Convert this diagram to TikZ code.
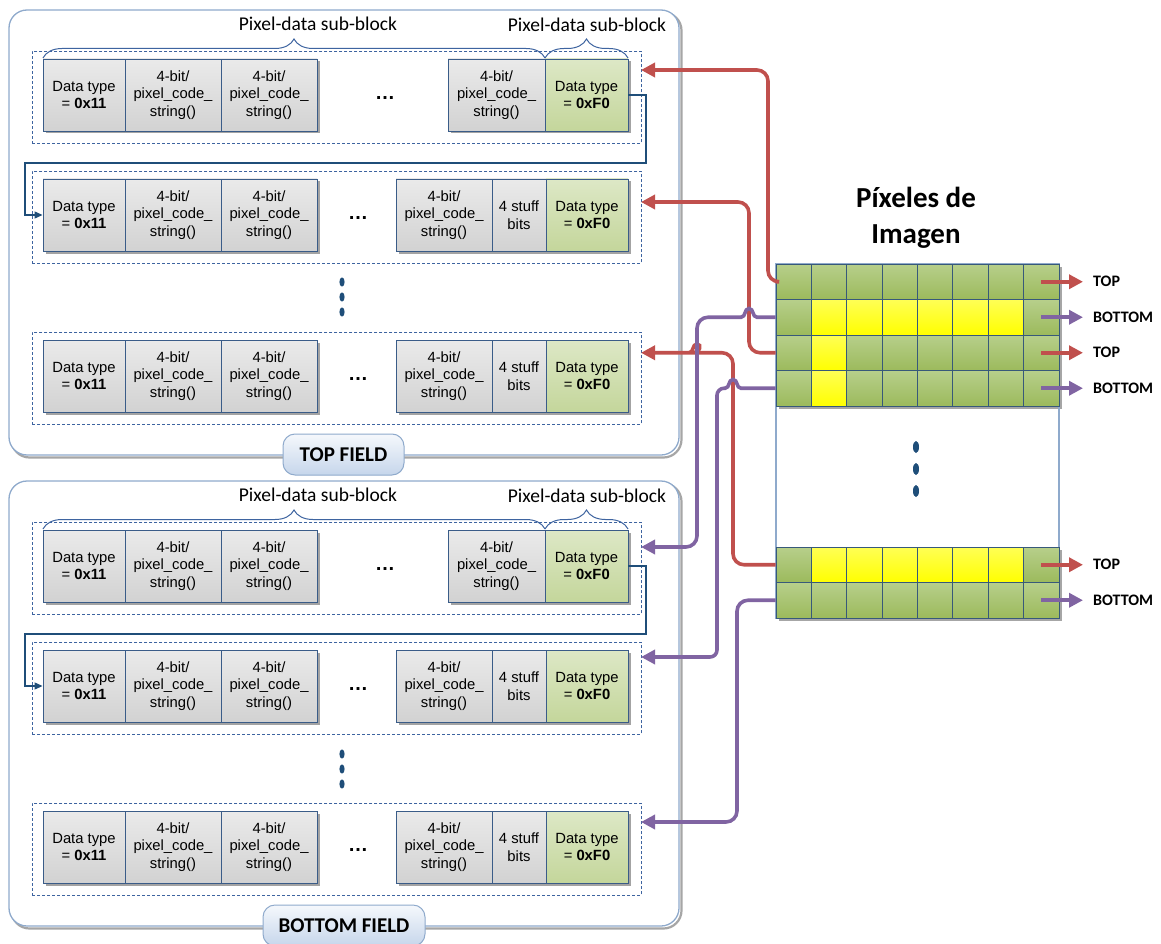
\documentclass[tikz,border=0pt]{standalone}
\usepackage{fontspec}
\setmainfont{Liberation Sans}
\newfontfamily\carl{Carlito}
\usetikzlibrary{arrows.meta,shadows,decorations.pathreplacing,calc}
\definecolor{cellb}{HTML}{3A5C88}
\definecolor{dashc}{HTML}{3E64A0}
\definecolor{fieldc}{HTML}{8FAACC}
\definecolor{redc}{HTML}{C0504D}
\definecolor{purc}{HTML}{8064A2}
\definecolor{navy}{HTML}{1F4E79}
\definecolor{gridl}{HTML}{37597A}
\definecolor{gtop}{HTML}{B7CF8B}
\definecolor{gbot}{HTML}{9CBA5C}
\definecolor{ytop}{HTML}{FFFF55}
\definecolor{ybot}{HTML}{FFFF00}
\definecolor{celltop}{HTML}{EAEAEA}
\definecolor{cellbot}{HTML}{D2D2D2}
\definecolor{lgtop}{HTML}{DDE8C6}
\definecolor{lgbot}{HTML}{C4D69B}
\definecolor{labtop}{HTML}{F5F8FC}
\definecolor{labbot}{HTML}{C6D6EB}

\newcommand\rowTypeA[2]{%
  \node[dbox, minimum width=609pt, minimum height=92pt, anchor=north west] (#1box) at (32,#2-44) {};
  \node[cell, minimum width=82pt] (#1a) at (84,#2) {Data type\\= \textbf{0x11}};
  \node[cell, minimum width=96pt] (#1b) at (173,#2) {4-bit/\\pixel\_code\_\\string()};
  \node[cell, minimum width=96pt] (#1c) at (269,#2) {4-bit/\\pixel\_code\_\\string()};
  \node[dots] (#1dots) at (385,#2+3) {\textbf{…}};
  \node[cell, minimum width=97pt] (#1d) at (496.5,#2) {4-bit/\\pixel\_code\_\\string()};
  \node[gcell, minimum width=83pt] (#1g) at (586.5,#2) {Data type\\= \textbf{0xF0}};
}
\newcommand\rowTypeB[2]{%
  \node[dbox, minimum width=609pt, minimum height=92pt, anchor=north west] (#1box) at (32,#2-44) {};
  \node[cell, minimum width=82pt] (#1a) at (84,#2) {Data type\\= \textbf{0x11}};
  \node[cell, minimum width=96pt] (#1b) at (173,#2) {4-bit/\\pixel\_code\_\\string()};
  \node[cell, minimum width=96pt] (#1c) at (269,#2) {4-bit/\\pixel\_code\_\\string()};
  \node[dots] (#1dots) at (358,#2+3) {\textbf{…}};
  \node[cell, minimum width=96pt] (#1d) at (444,#2) {4-bit/\\pixel\_code\_\\string()};
  \node[cell, minimum width=54pt] (#1s) at (519,#2) {4 stuff\\bits};
  \node[gcell, minimum width=82pt] (#1g) at (587,#2) {Data type\\= \textbf{0xF0}};
}

\begin{document}
\begin{tikzpicture}[x=1pt,y=-1pt,
  cell/.style={draw=cellb, line width=0.9pt, top color=celltop, bottom color=cellbot,
    minimum height=72pt, inner sep=0pt, align=center,
    font=\fontsize{14.8}{17.8}\selectfont,
    drop shadow={shadow xshift=2.5pt, shadow yshift=-2.5pt, fill=black!40, opacity=.9}},
  gcell/.style={cell, top color=lgtop, bottom color=lgbot},
  dbox/.style={draw=dashc, dash pattern=on 3pt off 2pt, line width=0.8pt, inner sep=0pt},
  dots/.style={inner sep=0pt, font=\fontsize{20}{20}\selectfont},
  bracec/.style={draw=dashc, line width=1pt, decorate, decoration={brace, amplitude=19pt}},
  sublabel/.style={font=\carl\fontsize{19.5}{22}\selectfont, inner sep=1pt},
  fieldbox/.style={draw=fieldc, line width=1.3pt, rounded corners=18pt, fill=white},
  fieldshadow/.style={draw=black!35, line width=2.2pt, rounded corners=18pt},
  flabel/.style={draw=fieldc, line width=1pt, rounded corners=12pt, top color=labtop, bottom color=labbot,
    font=\carl\bfseries\fontsize{21}{23}\selectfont, minimum height=41pt, inner sep=0pt},
  rowc/.style={draw=navy, line width=1.2pt, -{Triangle[length=8pt,width=7pt]}},
  vdot/.style={fill=navy},
  gcellg/.style={draw=gridl, line width=0.9pt, top color=gtop, bottom color=gbot, minimum width=35.375pt, minimum height=35.5pt, inner sep=0pt},
  gcelly/.style={gcellg, top color=ytop, bottom color=ybot},
  redline/.style={draw=redc, line width=3.6pt, -{Triangle[length=14pt,width=14pt]}},
  purline/.style={draw=purc, line width=3.6pt, -{Triangle[length=14pt,width=14pt]}},
  outlab/.style={font=\carl\bfseries\fontsize{16}{18}\selectfont, anchor=west, inner sep=0pt},
]
\useasboundingbox (0,0) rectangle (1161,944);
\clip (0,0) rectangle (1161,944);

% ---------- field boxes ----------
\draw[fieldshadow] (11.5,12.5) rectangle (681.5,457.5);
\draw[fieldbox] (9,10) rectangle (679,455);
\draw[fieldshadow] (11.5,483.5) rectangle (681.5,928.5);
\draw[fieldbox] (9,481) rectangle (679,926);
\node[flabel, minimum width=121pt] (topfield) at (343.5,454.5) {TOP FIELD};
\node[flabel, minimum width=162pt] (botfield) at (344,925.5) {BOTTOM FIELD};

% ---------- rows ----------
\rowTypeA{tA}{95}
\rowTypeB{tB}{215}
\rowTypeB{tC}{376}
\rowTypeA{bA}{566}
\rowTypeB{bB}{686}
\rowTypeB{bC}{847}

% braces and labels
\draw[bracec] (43,58) -- (545,58);
\draw[bracec] (545,58) -- (628,58);
\node[sublabel] (tl1) at (318,24) {Pixel-data sub-block};
\node[sublabel] (tl2) at (587,25) {Pixel-data sub-block};
\draw[bracec] (43,529) -- (545,529);
\draw[bracec] (545,529) -- (628,529);
\node[sublabel] (bl1) at (318,495) {Pixel-data sub-block};
\node[sublabel] (bl2) at (587,496) {Pixel-data sub-block};

% vertical dots in fields
\foreach \yy in {282,297,312} {\fill[vdot] (342,\yy) ellipse (2.6pt and 4.6pt);}
\foreach \yy in {754,769,784} {\fill[vdot] (342,\yy) ellipse (2.6pt and 4.6pt);}

% row-to-row connectors
\draw[rowc] (tAg.east) -| (646,163) -| (25,215) -- (tBa.west);
\draw[rowc] (bAg.east) -| (646,634) -| (25,686) -- (bBa.west);

% ---------- pixel grid ----------
\node[font=\carl\bfseries\fontsize{29}{36}\selectfont, align=center] (title) at (916,218) {Píxeles de\\Imagen};
\fill[black!35] (779,267) rectangle (1062,409);
\fill[black!35] (779,550) rectangle (1062,621);
\draw[fieldc, line width=1.2pt] (776,264) rectangle (1059,618);
\foreach \r in {1,...,4} {
  \foreach \c in {1,...,8} {
    \node[gcellg] (g\r\c) at ({776+35.375*(\c-0.5)},{264+35.5*(\r-0.5)}) {};
  }
}
\foreach \r in {1,2} {
  \foreach \c in {1,...,8} {
    \node[gcellg] (h\r\c) at ({776+35.375*(\c-0.5)},{547+35.5*(\r-0.5)}) {};
  }
}
\foreach \c in {2,...,7} {\node[gcelly] (y2\c) at ({776+35.375*(\c-0.5)},{264+35.5*1.5}) {};}
\node[gcelly] (y32) at ({776+35.375*1.5},{264+35.5*2.5}) {};
\node[gcelly] (y42) at ({776+35.375*1.5},{264+35.5*3.5}) {};
\foreach \c in {2,...,7} {\node[gcelly] (z1\c) at ({776+35.375*(\c-0.5)},{547+35.5*0.5}) {};}

\foreach \yy in {447,469,491} {\fill[vdot] (916,\yy) ellipse (3pt and 6pt);}

% output labels and arrows
\node[outlab] (o1) at (1093,281.75) {TOP};
\node[outlab] (o2) at (1093,317.25) {BOTTOM};
\node[outlab] (o3) at (1093,352.75) {TOP};
\node[outlab] (o4) at (1093,388.25) {BOTTOM};
\node[outlab] (o5) at (1093,564.75) {TOP};
\node[outlab] (o6) at (1093,600.25) {BOTTOM};
\draw[redline] (g18.center) -- ([xshift=-10pt]o1.west);
\draw[purline] (g28.center) -- ([xshift=-10pt]o2.west);
\draw[redline] (g38.center) -- ([xshift=-10pt]o3.west);
\draw[purline] (g48.center) -- ([xshift=-10pt]o4.west);
\draw[redline] (h18.center) -- ([xshift=-10pt]o5.west);
\draw[purline] (h28.center) -- ([xshift=-10pt]o6.west);

% ---------- grid-to-row connectors ----------
\coordinate (e1) at (641,70);
\coordinate (e2) at (641,202);
\coordinate (e3) at (641,547);
\coordinate (e4) at (641,352.75);
\coordinate (e5) at (641,657);
\coordinate (e6) at (641,822);

\draw[redline, rounded corners=11pt] (g11.west) -| (768,70) -- (e1);
\draw[redline, rounded corners=11pt] (g31.west) -| (749,202) -- (e2);
\draw[redline] (h11.west) [rounded corners=11pt] -- (733,564.75) -- (733,352.75) -- (705,352.75) [sharp corners]
   .. controls (700,352.75) and (702,344) .. (697,344)
   .. controls (692,344) and (694,352.75) .. (689,352.75) -- (e4);
\draw[purline] (g21.west) -- (757,317.25)
   .. controls (752,317.25) and (754,308.5) .. (749,308.5)
   .. controls (744,308.5) and (746,317.25) .. (741,317.25)
   [rounded corners=11pt] -- (697,317.25) -- (697,547) -- (e3);
\draw[purline] (g41.west) -- (741,388.25)
   .. controls (736,388.25) and (738,379.5) .. (733,379.5)
   .. controls (728,379.5) and (730,388.25) .. (725,388.25)
   [rounded corners=7pt] -- (717,388.25) -- (717,657) -- (e5);
\draw[purline, rounded corners=11pt] (h21.west) -| (737,822) -- (e6);
\end{tikzpicture}
\end{document}
